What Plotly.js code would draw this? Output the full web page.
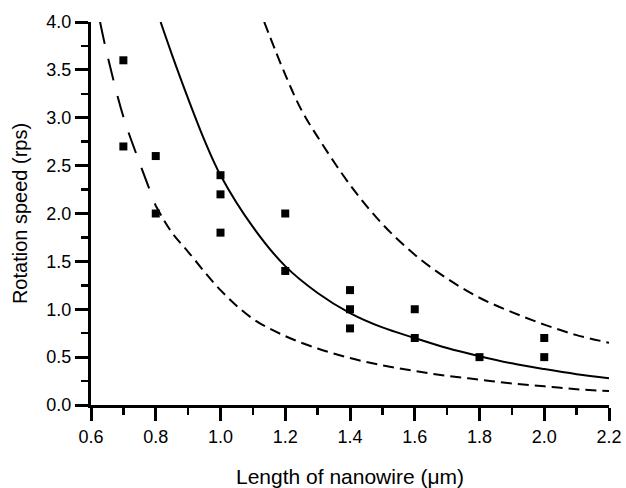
<!DOCTYPE html>
<html>
<head>
<meta charset="utf-8">
<script src="https://cdn.plot.ly/plotly-3.0.1.min.js"></script>
<style>html,body{margin:0;padding:0;background:#fff;}#chart{width:626px;height:488px;}</style>
</head>
<body>
<div id="chart"></div>
<script>
// Measured data points (length in µm, rotation speed in rps)
const dataX = [0.7, 0.7, 0.8, 0.8, 1.0, 1.0, 1.0, 1.2, 1.2, 1.4, 1.4, 1.4, 1.6, 1.6, 1.8, 2.0, 2.0];
const dataY = [3.6, 2.7, 2.6, 2.0, 2.4, 2.2, 1.8, 2.0, 1.4, 1.2, 1.0, 0.8, 1.0, 0.7, 0.5, 0.7, 0.5];

// Solid fitted curve
const solidX = [0.815, 0.85, 0.90, 0.95, 1.00, 1.10, 1.20, 1.30, 1.40, 1.50, 1.60, 1.70, 1.80, 1.90, 2.00, 2.10, 2.20];
const solidY = [4.00, 3.66, 3.20, 2.77, 2.40, 1.86, 1.45, 1.17, 0.96, 0.81, 0.70, 0.595, 0.51, 0.435, 0.375, 0.322, 0.28];

// Lower dashed curve, steep part and the rest
const lowerSteepX = [0.628, 0.65, 0.70, 0.75, 0.80];
const lowerSteepY = [4.00, 3.66, 3.01, 2.53, 2.08];
const lowerX = [0.80, 0.85, 0.90, 1.00, 1.10, 1.20, 1.30, 1.40, 1.50, 1.60, 1.70, 1.80, 1.90, 2.00, 2.10, 2.20];
const lowerY = [2.08, 1.80, 1.60, 1.20, 0.90, 0.72, 0.59, 0.49, 0.415, 0.355, 0.305, 0.265, 0.225, 0.195, 0.165, 0.145];

// Upper dashed curve
const upperX = [1.135, 1.20, 1.25, 1.30, 1.40, 1.50, 1.60, 1.70, 1.80, 1.90, 2.00, 2.10, 2.20];
const upperY = [4.00, 3.45, 3.08, 2.80, 2.30, 1.89, 1.57, 1.32, 1.12, 0.97, 0.84, 0.73, 0.65];

const xTickVals = [0.6, 0.8, 1.0, 1.2, 1.4, 1.6, 1.8, 2.0, 2.2];
const xTickText = ['0.6', '0.8', '1.0', '1.2', '1.4', '1.6', '1.8', '2.0', '2.2'];
const yTickVals = [0, 0.5, 1.0, 1.5, 2.0, 2.5, 3.0, 3.5, 4.0];
const yTickText = ['0.0', '0.5', '1.0', '1.5', '2.0', '2.5', '3.0', '3.5', '4.0'];

const FONT = 'Liberation Sans, Arial, Helvetica, sans-serif';

const traces = [
  {x: solidX, y: solidY, mode: 'lines', line: {color: '#000', width: 2, shape: 'spline', smoothing: 1}, hoverinfo: 'skip'},
  {x: lowerSteepX, y: lowerSteepY, mode: 'lines', line: {color: '#000', width: 2, shape: 'spline', dash: '22px,16px'}, hoverinfo: 'skip'},
  {x: lowerX, y: lowerY, mode: 'lines', line: {color: '#000', width: 2, shape: 'spline', dash: '11px,6px'}, hoverinfo: 'skip'},
  {x: upperX, y: upperY, mode: 'lines', line: {color: '#000', width: 2, shape: 'spline', dash: '11px,6px'}, hoverinfo: 'skip'},
  {x: dataX, y: dataY, mode: 'markers', marker: {symbol: 'square', size: 8, color: '#000'}}
];

const axisCommon = {
  showgrid: false, zeroline: false, showline: true, linecolor: '#000', linewidth: 3,
  ticks: 'outside', ticklen: 13, tickwidth: 3, tickcolor: '#000',
  tickfont: {family: FONT, size: 18, color: '#000'}, mirror: false
};

const layout = {
  width: 626, height: 488,
  margin: {l: 91, r: 17, t: 22, b: 83},
  paper_bgcolor: '#fff', plot_bgcolor: '#fff',
  showlegend: false,
  font: {family: FONT, color: '#000'},
  xaxis: Object.assign({}, axisCommon, {
    range: [0.6, 2.2], tickvals: xTickVals, ticktext: xTickText,
    minor: {dtick: 0.1, tick0: 0.6, ticks: 'outside', ticklen: 7, tickwidth: 2.5, tickcolor: '#000', showgrid: false},
    title: {text: 'Length of nanowire (\u03bcm)', standoff: 27, font: {family: FONT, size: 21, color: '#000'}}
  }),
  yaxis: Object.assign({}, axisCommon, {
    range: [0, 4.0], tickvals: yTickVals, ticktext: yTickText,
    minor: {dtick: 0.25, tick0: 0, ticks: 'outside', ticklen: 7, tickwidth: 2.5, tickcolor: '#000', showgrid: false},
    title: {text: 'Rotation speed (rps)', standoff: 14, font: {family: FONT, size: 20, color: '#000'}}
  })
};

Plotly.newPlot('chart', traces, layout, {staticPlot: true, displayModeBar: false});
</script>
</body>
</html>
